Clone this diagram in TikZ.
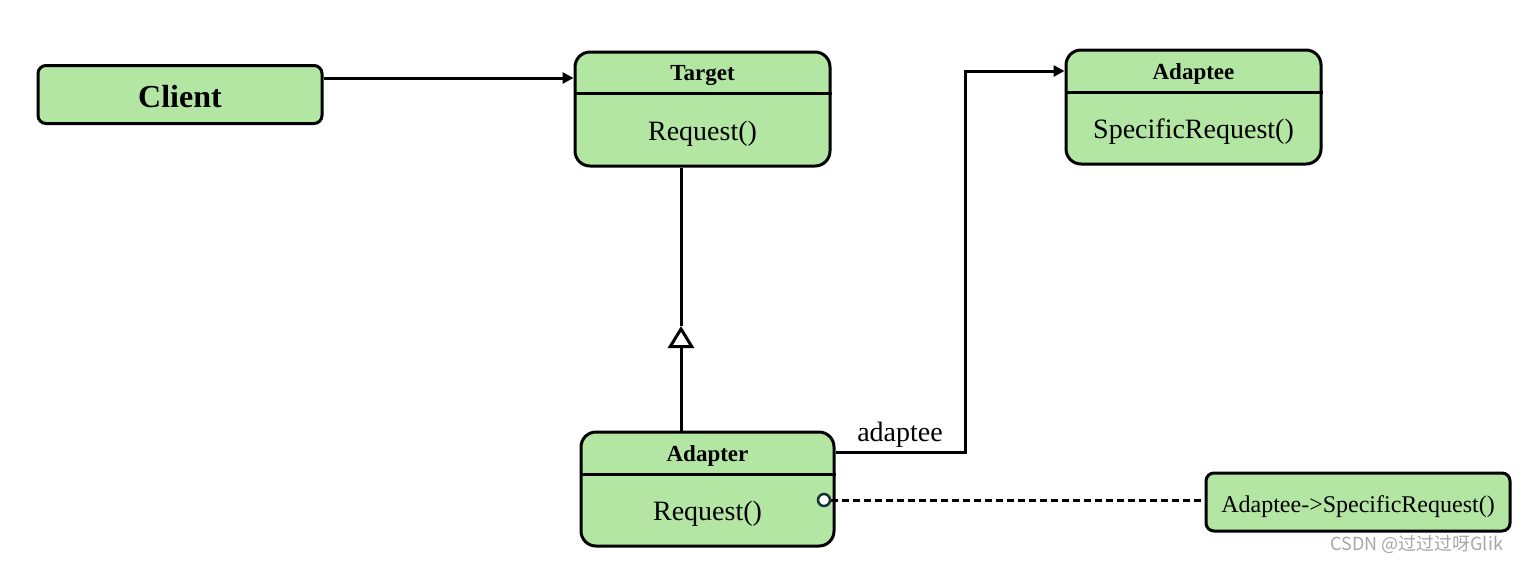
\documentclass[tikz,border=0pt]{standalone}
\usepackage{fontspec}
\setmainfont{Liberation Serif}
\newfontfamily\cjk{Noto Sans CJK SC}
\usetikzlibrary{arrows.meta}
\definecolor{boxgreen}{HTML}{B3E5A3}
\definecolor{pinblue}{HTML}{15343A}
\definecolor{markgray}{HTML}{A6A6A6}

\begin{document}
\begin{tikzpicture}[x=0.5pt, y=-0.5pt]
    \tikzstyle{classbox}=[draw, fill=boxgreen, line width=1.5pt, rounded corners=7.5pt, minimum width=127.5pt, minimum height=57pt, inner sep=0pt]
    \tikzstyle{plainbox}=[draw, fill=boxgreen, line width=1.5pt, rounded corners=4pt, inner sep=0pt, minimum height=29pt, text depth=0pt]
    \tikzstyle{title}=[font=\fontsize{11.5}{13}\selectfont\bfseries]
    \tikzstyle{method}=[font=\fontsize{14}{16}\selectfont]
    \tikzstyle{link}=[line width=1.5pt]

    \useasboundingbox (0,0) rectangle (1524,563);

    % plain boxes
    \node [plainbox, minimum width=142pt, text height=12.6pt, font=\fontsize{16}{18}\selectfont\bfseries] (client) at (180,94.5) {Client};
    \node [plainbox, minimum width=152pt, text height=10pt, font=\fontsize{12}{14}\selectfont] (call) at (1358,502) {Adaptee->SpecificRequest()};

    % class boxes
    \node [classbox] (target) at (702.5,109) {};
    \draw [line width=1.5pt] ([yshift=-21.5pt]target.north west) -- ([yshift=-21.5pt]target.north east);
    \node [title] (targetname) at ([yshift=-12.5pt]target.north) {Target};
    \node [method] (targetop) at ([yshift=-41.5pt]target.north) {Request()};

    \node [classbox] (adaptee) at (1193.5,107) {};
    \draw [line width=1.5pt] ([yshift=-22pt]adaptee.north west) -- ([yshift=-22pt]adaptee.north east);
    \node [title] (adapteename) at ([yshift=-12.5pt]adaptee.north) {Adaptee};
    \node [method] (adapteeop) at ([yshift=-41.5pt]adaptee.north) {SpecificRequest()};

    \node [classbox, minimum width=126.5pt] (adapter) at (707.5,489) {};
    \draw [line width=1.5pt] ([yshift=-22pt]adapter.north west) -- ([yshift=-22pt]adapter.north east);
    \node [title] (adaptername) at ([yshift=-12.5pt]adapter.north) {Adapter};
    \node [method] (adapterop) at ([yshift=-41.5pt]adapter.north) {Request()};

    % client -> target
    \coordinate (clientout) at ([yshift=8.25pt]client.east);
    \draw [link, -{Triangle[length=5.5pt, width=5.5pt]}] (clientout) -- (clientout -| target.west);

    % adapter is a target
    \coordinate (gentip) at (681,326);
    \draw [link, -{Triangle[open, length=11pt, width=13pt]}] (adapter.north -| gentip) -- (gentip);
    \draw [link] (gentip) -- (target.south -| gentip);

    % adapter -> adaptee
    \coordinate (adapterout) at ([yshift=18.5pt]adapter.east);
    \coordinate (adapteein) at ([yshift=18pt]adaptee.west);
    \coordinate (bend) at (965,260);
    \draw [link, -{Triangle[length=5.5pt, width=5.5pt]}] (adapterout) -| (bend) |- (adapteein);
    \node [method] (rolename) at (900,435) {adaptee};

    % note on Request()
    \node [circle, draw=pinblue, fill=white, line width=1.25pt, inner sep=0pt, minimum size=6pt] (pin) at (824,500) {};
    \draw [link, dash pattern=on 3.5pt off 2pt] (pin.east) -- (pin -| call.west);

    \node [font=\cjk\fontsize{9}{10}\selectfont, text=markgray, anchor=east] (mark) at (1510,545) {CSDN @过过过呀Glik};
\end{tikzpicture}
\end{document}
